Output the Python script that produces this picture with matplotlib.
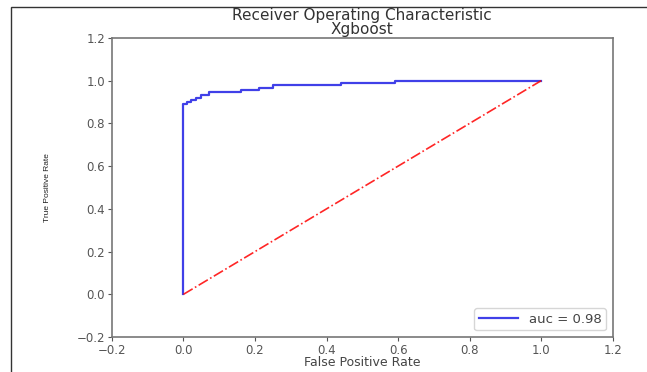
import matplotlib.pyplot as plt
from matplotlib import font_manager
from matplotlib.patches import Rectangle

# roc curve (step points)
fpr = [0.0, 0.0, 0.01, 0.02, 0.035, 0.05, 0.07, 0.16, 0.21, 0.25, 0.44, 0.59, 1.0]
tpr = [0.0, 0.89, 0.90, 0.91, 0.92, 0.935, 0.945, 0.955, 0.965, 0.98, 0.99, 1.0, 1.0]
auc_val = 0.98
diag = [0.0, 1.0]
ticks = [-0.2, 0.0, 0.2, 0.4, 0.6, 0.8, 1.0, 1.2]

# narrow font for the y label if it is there
try:
    font_manager.findfont("Liberation Sans Narrow", fallback_to_default=False)
    ylab_font, ylab_size = "Liberation Sans Narrow", 7.2
except ValueError:
    ylab_font, ylab_size = "Liberation Sans", 6

fig = plt.figure(figsize=(6.47, 3.72), dpi=100)
ax = fig.add_axes([0.173, 0.094, 0.774, 0.804])

# outer frame line (top and left only visible)
fig.patches.append(Rectangle((11 / 647, -0.1), 1.2, 1.1 - 7 / 372, transform=fig.transFigure,
                             fill=False, edgecolor="#333333", linewidth=1.0))

ax.plot(fpr, tpr, color="#4040e8", linewidth=1.6, drawstyle="steps-post",
        label="auc = %0.2f" % auc_val)
ax.plot(diag, diag, "r-.", linewidth=1.2, alpha=0.85)

ax.set_xlim(-0.2, 1.2)
ax.set_ylim(-0.2, 1.2)
ax.set_xticks(ticks)
ax.set_yticks(ticks)
ax.tick_params(labelsize=8.5, colors="#555555", length=3, pad=2)
for sp in ax.spines.values():
    sp.set_color("#777777")
    sp.set_linewidth(1.2)

ax.set_title("Receiver Operating Characteristic\nXgboost", fontsize=11, color="#333333",
             linespacing=0.9, pad=3)
ax.set_xlabel("False Positive Rate", fontsize=9, color="#444444", labelpad=-1)
ax.set_ylabel("True Positive Rate", fontsize=ylab_size, color="#222222", labelpad=18,
              family=[ylab_font, "DejaVu Sans"])
leg = ax.legend(loc="lower right", fontsize=9.5, handlelength=3.0, borderpad=0.35)
for t in leg.get_texts():
    t.set_color("#444444")

fig.savefig("out.png", dpi=100)
plt.close(fig)
